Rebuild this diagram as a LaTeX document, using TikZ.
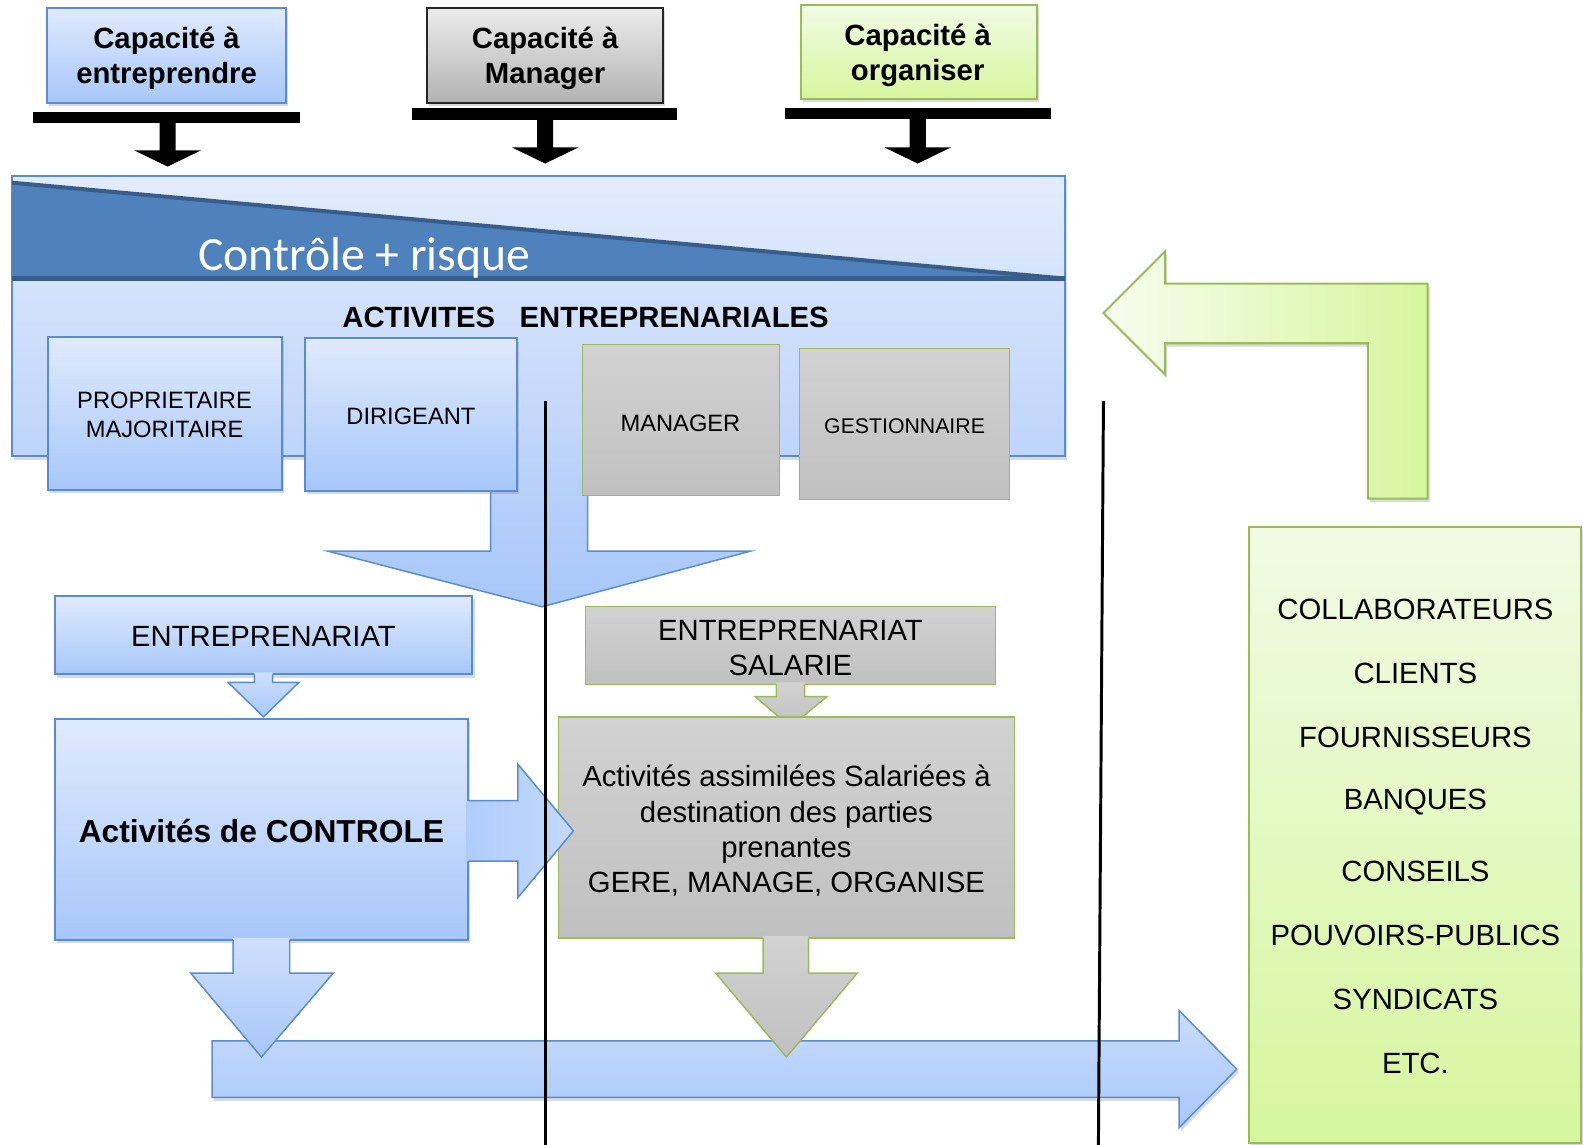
\documentclass[tikz,border=0pt]{standalone}
\usepackage{fontspec}
\setmainfont{Liberation Sans}
\newfontfamily\calibfont{Carlito}
\usetikzlibrary{shadows}

\definecolor{boxtop}{RGB}{224,234,252}
\definecolor{boxbot}{RGB}{167,199,250}
\definecolor{boxline}{RGB}{90,140,210}
\definecolor{maintop}{RGB}{226,236,252}
\definecolor{mainbot}{RGB}{190,212,250}
\definecolor{bandfill}{RGB}{79,129,189}
\definecolor{bandline}{RGB}{56,93,138}
\definecolor{greytop}{RGB}{210,210,210}
\definecolor{greybot}{RGB}{192,192,192}
\definecolor{greyhi}{RGB}{236,236,236}
\definecolor{greylo}{RGB}{178,178,178}
\definecolor{greentop}{RGB}{241,251,228}
\definecolor{greenbot}{RGB}{214,246,158}
\definecolor{greenline}{RGB}{155,187,89}

\tikzset{every picture/.style={line width=0.75pt}}
\tikzset{
  boxshadow/.style={drop shadow={shadow xshift=1.5pt, shadow yshift=-2.5pt, opacity=0.3}},
  bluebox/.style={draw=boxline, line width=1.5pt, top color=boxtop, bottom color=boxbot, boxshadow},
  mainbox/.style={draw=boxline, line width=1.5pt, top color=maintop, bottom color=mainbot, boxshadow},
  greybox/.style={draw=greenline, line width=1.1pt, top color=greytop, bottom color=greybot},
  greytopbox/.style={draw=black!85, line width=1.5pt, top color=greyhi, bottom color=greylo, boxshadow},
  greenbox/.style={draw=greenline, line width=1.5pt, top color=greentop, bottom color=greenbot, boxshadow},
  bluefill/.style={top color=boxtop!70!boxbot, bottom color=boxbot},
  blueedge/.style={draw=boxline, line width=1.1pt},
  greyfill/.style={top color=greytop, bottom color=greybot},
  greyedge/.style={draw=greenline, line width=1.1pt},
  bigtxt/.style={font=\fontsize{21.75pt}{26.25pt}\selectfont, align=center, inner sep=0pt},
  headtxt/.style={font=\fontsize{21.75pt}{26.25pt}\selectfont\bfseries, align=center, inner sep=0pt},
  smalltxt/.style={font=\fontsize{17.6pt}{21.75pt}\selectfont, align=center, inner sep=0pt},
  divider/.style={draw=black, line width=2.2pt}
}

\begin{document}
\begin{tikzpicture}[x=0.75pt,y=0.75pt,yscale=-1,xscale=1]
\useasboundingbox (0,0) rectangle (1568,1134);

%Shape: Rectangle [capacite entreprendre]
\draw[bluebox] (47,8) rectangle (283,102);
%Shape: Rectangle [capacite manager]
\draw[greytopbox] (423,8) rectangle (657,102);
%Shape: Rectangle [capacite organiser]
\draw[greenbox] (793,5) rectangle (1027,98);

%Shape: T arrows
\fill (33,111) rectangle (297,122);
\fill (158,121) -- (174,121) -- (174,149) -- (199,149) -- (166,165) -- (133,149) -- (158,149) -- cycle;
\fill (408,107) rectangle (671,119);
\fill (532,118) -- (548,118) -- (548,146) -- (573,146) -- (540,162) -- (507,146) -- (532,146) -- cycle;
\fill (778,107) rectangle (1041,118);
\fill (901,117) -- (917,117) -- (917,146) -- (942,146) -- (909,162) -- (876,146) -- (901,146) -- cycle;

%Shape: Rectangle [activites entreprenariales]
\draw[mainbox] (12,174) rectangle (1055,452);
%Shape: Triangle [controle + risque]
\fill[bandfill] (12,181) -- (1055,276) -- (12,276) -- cycle;
\draw[bandline, line width=3pt] (12,181) -- (1055,276);
\draw[bandline, line width=3.5pt] (12,276) -- (1055,276);

%Shape: Down Arrow [large blue]
\path[top color=mainbot, bottom color=boxbot] (486,440) -- (486,546) -- (325,546) -- (537,601) -- (743,546) -- (582,546) -- (582,440) -- cycle;
\draw[blueedge] (486,440) -- (486,546) -- (325,546) -- (537,601) -- (743,546) -- (582,546) -- (582,440);

%Shape: Rectangle [proprietaire]
\draw[bluebox] (48,334) rectangle (279,485);
%Shape: Rectangle [dirigeant]
\draw[bluebox] (302,335) rectangle (512,486);
%Shape: Rectangle [manager]
\draw[greybox] (577,341) rectangle (772,491);
%Shape: Rectangle [gestionnaire]
\draw[greybox] (792,345) rectangle (1000,495);

%Shape: Bent Arrow [green]
\draw[greenline, line width=1.5pt, left color=greentop!60!white, right color=greenbot, boxshadow] (1093,310) -- (1154,249) -- (1154,281) -- (1414,281) -- (1414,494) -- (1355,494) -- (1355,340) -- (1154,340) -- (1154,371) -- cycle;

%Shape: Rectangle [entreprenariat]
\draw[bluebox] (54,590) rectangle (468,668);
%Shape: Down Arrow [small blue]
\path[bluefill] (252,666) -- (252,676) -- (226,676) -- (261,710) -- (296,676) -- (270,676) -- (270,666) -- cycle;
\draw[blueedge] (252,668) -- (252,676) -- (226,676) -- (261,710) -- (296,676) -- (270,676) -- (270,668);

%Shape: Right Arrow [long]
\draw[blueedge, top color=boxtop!60!boxbot, bottom color=boxbot, boxshadow] (210,1031) -- (1168,1031) -- (1168,1001) -- (1225,1059) -- (1168,1117) -- (1168,1087) -- (210,1087) -- cycle;

%Shape: Rectangle [activites de controle]
\draw[bluebox] (54,712) rectangle (464,931);
%Shape: Down Arrow [controle]
\path[bluefill] (231,929) -- (231,964) -- (189,964) -- (259,1047) -- (330,964) -- (287,964) -- (287,929) -- cycle;
\draw[blueedge] (231,931) -- (231,964) -- (189,964) -- (259,1047) -- (330,964) -- (287,964) -- (287,931);

%Shape: Rectangle [entreprenariat salarie]
\draw[greybox] (580,601) rectangle (986,678);
%Shape: Down Arrow [small grey]
\path[greyfill] (769,676) -- (769,690) -- (748,690) -- (783,720) -- (819,690) -- (797,690) -- (797,676) -- cycle;
\draw[greyedge] (769,678) -- (769,690) -- (748,690) -- (783,720) -- (819,690) -- (797,690) -- (797,678);

%Shape: Rectangle [activites assimilees]
\draw[greybox] (553,710) rectangle (1005,929);
%Shape: Down Arrow [grey]
\path[greyfill] (756,927) -- (756,964) -- (709,964) -- (779,1047) -- (849,964) -- (801,964) -- (801,927) -- cycle;
\draw[greyedge] (756,929) -- (756,964) -- (709,964) -- (779,1047) -- (849,964) -- (801,964) -- (801,929);

%Shape: Right Arrow [controle]
\path[left color=boxbot!90!white, right color=boxtop!50!boxbot] (462,793) -- (513,793) -- (513,757) -- (568,823) -- (513,889) -- (513,853) -- (462,853) -- cycle;
\draw[blueedge] (464,793) -- (513,793) -- (513,757) -- (568,823) -- (513,889) -- (513,853) -- (464,853);

%Shape: Rectangle [parties prenantes]
\draw[greenbox] (1237,522) rectangle (1566,1132);

%Straight Lines [dividers]
\draw[divider] (540,397) -- (540,1134);
\draw[divider] (1093,397) -- (1088,1134);

% Text Node
\node[headtxt] (capent) at (165,58) {Capacité à\\entreprendre};
% Text Node
\node[headtxt] (capman) at (540,58) {Capacité à\\Manager};
% Text Node
\node[headtxt] (caporg) at (909,55) {Capacité à\\organiser};
% Text Node
\node[anchor=base west, inner sep=0pt, text=white, font=\calibfont\fontsize{35.4pt}{40pt}\selectfont] (risque) at (196,268) {Contrôle + risque};
% Text Node
\node[headtxt] (activ) at (580,314) {ACTIVITES\ \ \ ENTREPRENARIALES};
% Text Node
\node[smalltxt] (proprio) at (163,411) {PROPRIETAIRE\\MAJORITAIRE};
% Text Node
\node[smalltxt] (dirig) at (407,412) {DIRIGEANT};
% Text Node
\node[smalltxt] (manag) at (674,419) {MANAGER};
% Text Node
\node[smalltxt, font=\fontsize{15.8pt}{19pt}\selectfont] (gestion) at (896,422) {GESTIONNAIRE};
% Text Node
\node[bigtxt] (entrep) at (261,630) {ENTREPRENARIAT};
% Text Node
\node[bigtxt, font=\fontsize{21.75pt}{25.5pt}\selectfont] (entsal) at (783,642) {ENTREPRENARIAT\\SALARIE};
% Text Node
\node[headtxt, font=\fontsize{23.6pt}{28pt}\selectfont\bfseries] (ctrl) at (259,823) {Activités de CONTROLE};
% Text Node
\node[bigtxt] (assim) at (779,823) {Activités assimilées Salariées à\\destination des parties\\prenantes\\GERE, MANAGE, ORGANISE};
% Text Node
\node[bigtxt] (collab) at (1402,604) {COLLABORATEURS};
% Text Node
\node[bigtxt] (clients) at (1402,667) {CLIENTS};
% Text Node
\node[bigtxt] (fourn) at (1402,730) {FOURNISSEURS};
% Text Node
\node[bigtxt] (banques) at (1402,794) {BANQUES};
% Text Node
\node[bigtxt] (conseils) at (1402,863) {CONSEILS};
% Text Node
\node[bigtxt] (pouvoirs) at (1402,927) {POUVOIRS-PUBLICS};
% Text Node
\node[bigtxt] (syndic) at (1402,990) {SYNDICATS};
% Text Node
\node[bigtxt] (etc) at (1402,1053) {ETC.};

\end{tikzpicture}
\end{document}
